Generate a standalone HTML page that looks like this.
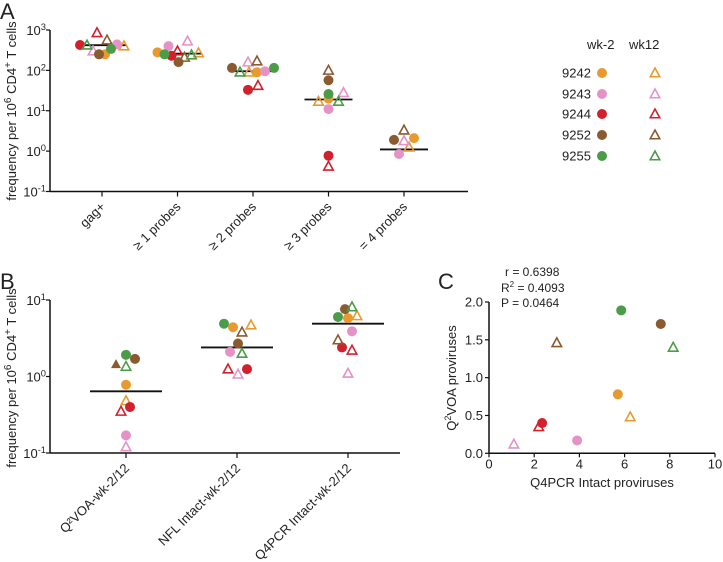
<!DOCTYPE html>
<html><head><meta charset="utf-8"><style>
body{margin:0;background:#fff}
svg{display:block;font-family:"Liberation Sans",Arial,sans-serif}
</style></head><body>
<svg id="fig" width="723" height="562" viewBox="0 0 723 562">
<g id="gA"></g>
<g id="gB"></g>
<g id="gC"></g>
<g id="gL"></g>
</svg>
<script>
const animals=["9242","9243","9244","9252","9255"];
const colors=["#E89A2E","#E592C6","#D2202C","#8A5A30","#4A9C48"];
// Panel A values [category][animal]: wk-2 circles and wk12 triangles
const catsA=["gag+","≥ 1 probes","≥ 2 probes","≥ 3 probes","= 4 probes"];
const aWk2=[[250,440,425,250,340],[280,400,230,160,250],[90,95,33,115,115],[20,11,0.77,57,26],[2.1,0.85,null,1.9,null]];
const aWk12=[[400,300,850,560,420],[270,530,300,210,240],[90,160,42,170,90],[17,28,0.42,100,17],[1.25,1.8,null,3.3,null]];
const aMed=[420,260,95,19,1.1];
const aJit2=[[3,15,-22,-3,9],[-20,-9,-6,1,-13],[4,12,-5,-21,21],[0,0,0,0,0],[10,-5,0,-10,0]];
const aJit12=[[22,-9,-5,5,-15],[21,10,0,7,14],[-4,-5,5,4,-13],[-10,15,0,0,10],[5,0,0,0,0]];
const yTicksA=[3,2,1,0,-1];
// Panel B
const catsB=["Q²VOA-wk-2/12","NFL Intact-wk-2/12","Q4PCR Intact-wk-2/12"];
const bWk2=[[0.78,0.17,0.4,1.7,1.92],[4.4,2.1,1.25,2.7,4.9],[5.8,3.9,2.4,7.6,6.0]];
const bWk12=[[0.48,0.12,0.35,1.45,1.35],[4.7,1.07,1.25,3.8,2.0],[6.2,1.1,2.2,3.0,8.1]];
const bMed=[0.64,2.4,4.9];
const bJit2=[[0,0,4,9,0],[-4,-7,10,1,-13],[0,4,-6,-3,-10]];
const bJit12=[[0,0,-5,-10,0],[14,1,-9,5,5],[9,0,4,-10,4]];
const yTicksB=[1,0,-1];
// Panel C
const cX2=[5.7,3.9,2.35,7.6,5.85], cY2=[0.78,0.17,0.4,1.71,1.89];
const cX12=[6.25,1.1,2.2,3.0,8.15], cY12=[0.48,0.12,0.35,1.46,1.4];
const cXTicks=[0,2,4,6,8,10], cYTicks=[0,0.5,1.0,1.5,2.0];

const NS="http://www.w3.org/2000/svg";
function el(p,t,a){const e=document.createElementNS(NS,t);for(const k in a)e.setAttribute(k,a[k]);p.appendChild(e);return e;}
function circ(g,x,y,c){const e=el(g,"circle",{cx:x,cy:y,r:5,fill:c});

}
function tri(g,x,y,c){const s=5;const e=el(g,"polygon",{points:`${x},${y-s} ${x+s*0.95},${y+s*0.75} ${x-s*0.95},${y+s*0.75}`,fill:"none",stroke:c,"stroke-width":1.6});

}
function txt(g,x,y,s,o){const e=el(g,"text",Object.assign({x:x,y:y,"font-size":13,fill:"#222"},o||{}));e.textContent=s;return e;}
function pow10(g,x,y,exp,fs){const t=el(g,"text",{x:x,y:y,"font-size":fs,"text-anchor":"end",fill:"#222"});


const a=el(t,"tspan",{});a.textContent="10";const b=el(t,"tspan",{dy:-5,"font-size":fs*0.72});b.textContent=String(exp);}

// Panel A
(function(){const g=document.getElementById("gA");
const x0=50,x1=468,yTop=30,yBot=191.5;const yA=v=>yBot-(Math.log10(v)+1)*(yBot-yTop)/4;
const xs=i=>102+i*75.5;
el(g,"line",{x1:x0,y1:yTop,x2:x0,y2:yBot,stroke:"#111","stroke-width":1.5});
el(g,"line",{x1:x0,y1:yBot,x2:x1,y2:yBot,stroke:"#111","stroke-width":1.5});
yTicksA.forEach(e=>{const y=yA(Math.pow(10,e));el(g,"line",{x1:x0-4,y1:y,x2:x0,y2:y,stroke:"#111","stroke-width":1.2});pow10(g,x0-4,y+5,e,13);});
catsA.forEach((c,i)=>{const x=xs(i);el(g,"line",{x1:x,y1:yBot,x2:x,y2:yBot+5,stroke:"#111","stroke-width":1.2});
const t=txt(g,x+4,yBot+16,c,{"text-anchor":"end",transform:`rotate(-45 ${x+4} ${yBot+16})`});
const m=el(g,"line",{x1:x-24,y1:yA(aMed[i]),x2:x+24,y2:yA(aMed[i]),stroke:"#111","stroke-width":1.8});
for(let a=0;a<5;a++){if(aWk2[i][a]!=null)circ(g,x+aJit2[i][a],yA(aWk2[i][a]),colors[a]);if(aWk12[i][a]!=null)tri(g,x+aJit12[i][a],yA(aWk12[i][a]),colors[a]);}});
const yl=el(g,"text",{x:0,y:0,"font-size":13,fill:"#222","text-anchor":"middle",transform:"translate(16,111) rotate(-90)"});

yl.innerHTML='frequency per  10<tspan dy="-5" font-size="10">6</tspan><tspan dy="5"> CD4</tspan><tspan dy="-5" font-size="10">+</tspan><tspan dy="5"> T cells</tspan>';
txt(g,0,19,"A",{"font-size":22});})();

// Panel B
(function(){const g=document.getElementById("gB");
const x0=50,x1=400,yTop=300,yBot=453;const yB=v=>yBot-(Math.log10(v)+1)*(yBot-yTop)/2;
const xs=i=>126+i*111;
el(g,"line",{x1:x0,y1:yTop,x2:x0,y2:yBot,stroke:"#111","stroke-width":1.5});
el(g,"line",{x1:x0,y1:yBot,x2:x1,y2:yBot,stroke:"#111","stroke-width":1.5});
yTicksB.forEach(e=>{const y=yB(Math.pow(10,e));el(g,"line",{x1:x0-4,y1:y,x2:x0,y2:y,stroke:"#111","stroke-width":1.2});pow10(g,x0-4,y+5,e,13);});
catsB.forEach((c,i)=>{const x=xs(i);el(g,"line",{x1:x,y1:yBot,x2:x,y2:yBot+5,stroke:"#111","stroke-width":1.2});
const t=txt(g,x+4,yBot+16,c,{"text-anchor":"end",transform:`rotate(-45 ${x+4} ${yBot+16})`});
const m=el(g,"line",{x1:x-36,y1:yB(bMed[i]),x2:x+36,y2:yB(bMed[i]),stroke:"#111","stroke-width":1.8});
for(let a=0;a<5;a++){circ(g,x+bJit2[i][a],yB(bWk2[i][a]),colors[a]);
if(i===0&&a===3){const s=5,xx=x+bJit12[i][a],yy=yB(bWk12[i][a]);const p=el(g,"polygon",{points:`${xx},${yy-s} ${xx+s},${yy+s*0.8} ${xx-s},${yy+s*0.8}`,fill:colors[a]});}
else tri(g,x+bJit12[i][a],yB(bWk12[i][a]),colors[a]);}});
const yl=el(g,"text",{x:0,y:0,"font-size":13,fill:"#222","text-anchor":"middle",transform:"translate(16,378) rotate(-90)"});

yl.innerHTML='frequency per  10<tspan dy="-5" font-size="10">6</tspan><tspan dy="5">  CD4</tspan><tspan dy="-5" font-size="10">+</tspan><tspan dy="5"> T cells</tspan>';
txt(g,0,289,"B",{"font-size":22});})();

// Panel C
(function(){const g=document.getElementById("gC");
const x0=489,x1=715,yTop=302,yBot=453.3;const xC=v=>x0+v*(x1-x0)/10;const yC=v=>yBot-v*(yBot-yTop)/2;
el(g,"line",{x1:x0,y1:yTop,x2:x0,y2:yBot,stroke:"#111","stroke-width":1.5});
el(g,"line",{x1:x0,y1:yBot,x2:x1,y2:yBot,stroke:"#111","stroke-width":1.5});
cYTicks.forEach(v=>{const y=yC(v);el(g,"line",{x1:x0-4,y1:y,x2:x0,y2:y,stroke:"#111","stroke-width":1.2});const t=txt(g,x0-6,y+4.5,v.toFixed(1),{"text-anchor":"end"});});
cXTicks.forEach(v=>{const x=xC(v);el(g,"line",{x1:x,y1:yBot,x2:x,y2:yBot+4,stroke:"#111","stroke-width":1.2});const t=txt(g,x,yBot+15,String(v),{"text-anchor":"middle"});});
for(let a=0;a<5;a++){circ(g,xC(cX2[a]),yC(cY2[a]),colors[a]);tri(g,xC(cX12[a]),yC(cY12[a]),colors[a]);}
const xl=txt(g,602,487,"Q4PCR Intact proviruses",{"text-anchor":"middle"});
const yl=el(g,"text",{x:0,y:0,"font-size":13,fill:"#222","text-anchor":"middle",transform:"translate(456,378) rotate(-90)"});

yl.innerHTML='Q<tspan dy="-5" font-size="9">2</tspan><tspan dy="5">VOA proviruses</tspan>';
const s1=txt(g,505,276,"r = 0.6398",{"font-size":12});
const s2=el(g,"text",{x:501,y:292,"font-size":12,fill:"#222"});
s2.innerHTML='R<tspan dy="-5" font-size="8">2</tspan><tspan dy="5"> = 0.4093</tspan>';
const s3=txt(g,501,307,"P = 0.0464",{"font-size":12});
txt(g,438,289,"C",{"font-size":22});})();

// Legend
(function(){const g=document.getElementById("gL");
txt(g,587,49,"wk-2");txt(g,629,49,"wk12");
const ys=[73,94,114,135,156];
animals.forEach((n,a)=>{const t=txt(g,562,ys[a]+4.5,n);
circ(g,602,ys[a],colors[a]);tri(g,655,ys[a],colors[a]);});})();
</script>
</body></html>
